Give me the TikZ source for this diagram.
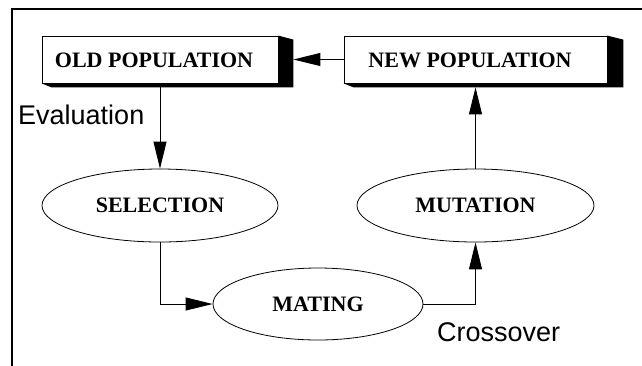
\documentclass[tikz,border=0pt]{standalone}
\usepackage{fontspec}
\setmainfont{Liberation Serif}
\newfontfamily\arialfont{Liberation Sans}
\usetikzlibrary{arrows.meta,shapes.geometric,calc}
\tikzset{
  popbox/.style={draw, line width=0.8pt, fill=white, rectangle, inner sep=0pt, minimum width=236pt, minimum height=47pt},
  poptext/.style={font=\fontsize{22}{24}\selectfont\bfseries, inner sep=0pt},
  opnode/.style={draw, line width=0.8pt, ellipse, inner sep=0pt, font=\fontsize{22}{24}\selectfont\bfseries},
  arr/.style={line width=0.9pt, -{Triangle[length=27pt,width=13pt]}},
  conn/.style={line width=0.9pt},
  lbl/.style={font=\arialfont\fontsize{27}{30}\selectfont, inner sep=0pt},
  shadowfill/.style={fill=black}
}
\begin{document}
\begin{tikzpicture}[x=1pt,y=-1pt]
\useasboundingbox (0,0) rectangle (642,365);
% frame
\draw[line width=2.5pt] (642,9) -- (12,9) -- (12,366);
% boxes
\node[popbox] (old) at (160,59.5) {};
\fill[shadowfill] (old.north east) -- ++(15,4) -- ($(old.south east)+(15,4)$) -- ($(old.south west)+(10,4)$) -- (old.south west) -- (old.south east) -- cycle;
\node[poptext] (oldlabel) at (154,60) {OLD POPULATION};
\node[popbox, minimum width=263pt] (new) at (475.5,59.5) {};
\fill[shadowfill] (new.north east) -- ++(16,4) -- ($(new.south east)+(16,4)$) -- ($(new.south west)+(10,4)$) -- (new.south west) -- (new.south east) -- cycle;
\node[poptext] (newlabel) at (470,60) {NEW POPULATION};
\coordinate (oldR) at ($(old.east)+(15,0)$);
\coordinate (oldB) at ($(old.south)+(0,4)$);
\coordinate (newB) at ($(new.south)+(0,4)$);
% ellipses
\node[opnode, minimum width=236pt, minimum height=73pt] (sel) at (160,205.5) {SELECTION};
\node[opnode, minimum width=210pt, minimum height=72pt] (mat) at (318,304) {MATING};
\node[opnode, minimum width=237pt, minimum height=73pt] (mut) at (475.5,205.5) {MUTATION};
% connectors
\draw[arr] (new.west) -- (oldR);
\draw[arr] (oldB) -- (sel.north);
\draw[arr] (sel.south) |- (mat.west);
\draw[arr] (mat.east) -| (mut.south);
\draw[arr] (mut.north) -- (newB);
% labels
\node[lbl, anchor=west] (evall) at (18,115) {Evaluation};
\node[lbl, anchor=west] (crossl) at (437,332) {Crossover};
\end{tikzpicture}
\end{document}
